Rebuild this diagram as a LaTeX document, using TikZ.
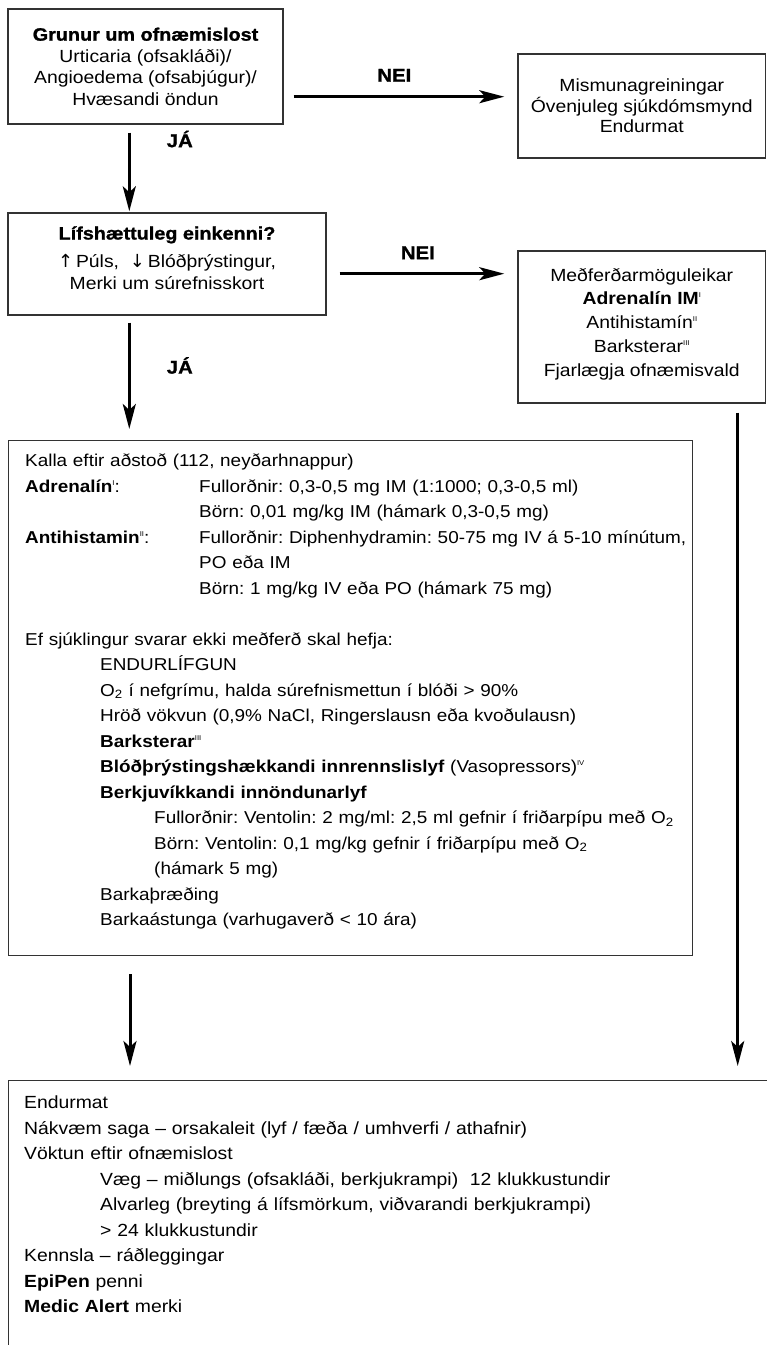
\documentclass[tikz,border=0pt]{standalone}
\usepackage{fontspec}
\setmainfont{Liberation Sans}[FakeStretch=1.1]
\newfontfamily\heavyfont{Liberation Sans}[FakeStretch=1.1, BoldFeatures={FakeBold=1.2}]
\newfontfamily\arrowfont{DejaVu Sans}
\usetikzlibrary{arrows.meta}
\frenchspacing

\newcommand{\bodysize}{\fontsize{17.6}{25.5}\selectfont}
\newcommand{\listsize}{\fontsize{17.2}{25.5}\selectfont}
\newcommand{\headfont}{\fontsize{18}{21.5}\selectfont\heavyfont\bfseries}
\newcommand{\romsup}[1]{\raisebox{7pt}{\fontsize{7}{7}\selectfont #1}}
\newcommand{\oxy}{O\textsubscript{2}}
\newcommand{\uparr}{{\arrowfont\fontsize{18}{18}\selectfont ↑}}
\newcommand{\downarr}{{\arrowfont\fontsize{18}{18}\selectfont ↓}}

\begin{document}
\begin{tikzpicture}[x=1pt, y=-1pt,
  every node/.style={font=\bodysize},
  flowbox/.style={draw=black!80, line width=1.4pt, inner sep=0pt},
  boxtext/.style={align=center, inner sep=0pt, font=\fontsize{17.6}{#1}\selectfont},
  listtext/.style={align=left, text width=750pt, inner sep=0pt, anchor=base west},
  yesno/.style={font=\fontsize{18.5}{20}\selectfont\heavyfont\bfseries, inner sep=0pt},
  arr/.style={line width=3pt, -{Stealth[length=25pt, width=13pt, inset=6pt]}}]
\useasboundingbox (0,0) rectangle (767,1345);
\clip (0,0) rectangle (767,1345);

% boxes
\node[flowbox, minimum width=275pt, minimum height=115pt] (suspect) at (145.5,66.5) {};
\node[boxtext=21.5] (suspecttxt) at (suspect.center) {{\headfont Grunur um ofnæmislost}\\Urticaria (ofsakláði)/\\Angioedema (ofsabjúgur)/\\Hvæsandi öndun};

\node[flowbox, minimum width=247.5pt, minimum height=104pt] (differ) at (641.75,106) {};
\node[boxtext=20.5] (differtxt) at (differ.center) {Mismunagreiningar\\Óvenjuleg sjúkdómsmynd\\Endurmat};

\node[flowbox, minimum width=318pt, minimum height=102pt] (threat) at (167,264) {};
\node[boxtext=22] (threattxt) at ([yshift=6pt]threat.center) {{\headfont Lífshættuleg einkenni?}\\[6pt]\uparr\,Púls,\ \ \downarr\,Blóðþrýstingur,\\Merki um súrefnisskort};

\node[flowbox, minimum width=247.5pt, minimum height=152pt] (options) at (641.75,327) {};
\node[boxtext=23.75] (optionstxt) at ([yshift=3pt]options.center) {Meðferðarmöguleikar\\\textbf{Adrenalín IM}\romsup{I}\\Antihistamín\romsup{II}\\Barksterar\romsup{III}\\Fjarlægja ofnæmisvald};

\node[flowbox, minimum width=684pt, minimum height=515pt, anchor=north west] (treat) at (8,440) {};
\node[listtext, font=\listsize] (treattxt) at (25,466.5) {Kalla eftir aðstoð (112, neyðarhnappur)\\
\makebox[174pt][l]{\textbf{Adrenalín}\romsup{I}:}Fullorðnir: 0,3-0,5 mg IM (1:1000; 0,3-0,5 ml)\\
\hspace*{174pt}Börn: 0,01 mg/kg IM (hámark 0,3-0,5 mg)\\
\makebox[174pt][l]{\textbf{Antihistamin}\romsup{II}:}Fullorðnir: Diphenhydramin: 50-75 mg IV á 5-10 mínútum,\\
\hspace*{174pt}PO eða IM\\
\hspace*{174pt}Börn: 1 mg/kg IV eða PO (hámark 75 mg)\\[25.5pt]
Ef sjúklingur svarar ekki meðferð skal hefja:\\
\hspace*{75pt}ENDURLÍFGUN\\
\hspace*{75pt}\oxy{} í nefgrímu, halda súrefnismettun í blóði > 90\%\\
\hspace*{75pt}Hröð vökvun (0,9\% NaCl, Ringerslausn eða kvoðulausn)\\
\hspace*{75pt}\textbf{Barksterar}\romsup{III}\\
\hspace*{75pt}\textbf{Blóðþrýstingshækkandi innrennslislyf} (Vasopressors)\romsup{IV}\\
\hspace*{75pt}\textbf{Berkjuvíkkandi innöndunarlyf}\\
\hspace*{129pt}Fullorðnir: Ventolin: 2 mg/ml: 2,5 ml gefnir í friðarpípu með \oxy\\
\hspace*{129pt}Börn: Ventolin: 0,1 mg/kg gefnir í friðarpípu með \oxy\\
\hspace*{129pt}(hámark 5 mg)\\
\hspace*{75pt}Barkaþræðing\\
\hspace*{75pt}Barkaástunga (varhugaverð < 10 ára)};

\node[flowbox, minimum width=820pt, minimum height=320pt, anchor=north west] (review) at (8,1080) {};
\node[listtext] (reviewtxt) at (24,1108.5) {Endurmat\\
Nákvæm saga – orsakaleit (lyf / fæða / umhverfi / athafnir)\\
Vöktun eftir ofnæmislost\\
\hspace*{76pt}Væg – miðlungs (ofsakláði, berkjukrampi)\ \ 12 klukkustundir\\
\hspace*{76pt}Alvarleg (breyting á lífsmörkum, viðvarandi berkjukrampi)\\
\hspace*{76pt}> 24 klukkustundir\\
Kennsla – ráðleggingar\\
\textbf{EpiPen} penni\\
\textbf{Medic Alert} merki};

% connectors
\coordinate (nei1s) at ([xshift=10pt, yshift=28pt]suspect.south east);
\draw[arr, shorten >=13pt] (nei1s) -- node[yesno, pos=0.45, above=13.5pt] (nei1) {NEI} (nei1s -| differ.west);
\coordinate (ja1s) at ([xshift=122pt, yshift=-8pt]suspect.south west);
\draw[arr, shorten >=1pt] (ja1s) -- node[yesno, pos=0.08, right=36pt] (ja1) {JÁ} (ja1s |- threat.north);

\coordinate (nei2s) at ([xshift=13pt, yshift=42pt]threat.south east);
\draw[arr, shorten >=13pt] (nei2s) -- node[yesno, pos=0.44, above=13pt] (nei2) {NEI} (nei2s -| options.west);
\coordinate (ja2s) at ([xshift=122pt, yshift=-7pt]threat.south west);
\draw[arr, shorten >=11pt] (ja2s) -- node[yesno, pos=0.365, right=36pt] (ja2) {JÁ} (ja2s |- treat.north);

\coordinate (treatdown) at ([xshift=122pt, yshift=-18pt]treat.south west);
\draw[arr, shorten >=14pt] (treatdown) -- (treatdown |- review.north);
\coordinate (optdown) at ([xshift=-28.5pt, yshift=-9pt]options.south east);
\draw[arr, shorten >=14pt] (optdown) -- (optdown |- review.north);
\end{tikzpicture}
\end{document}
